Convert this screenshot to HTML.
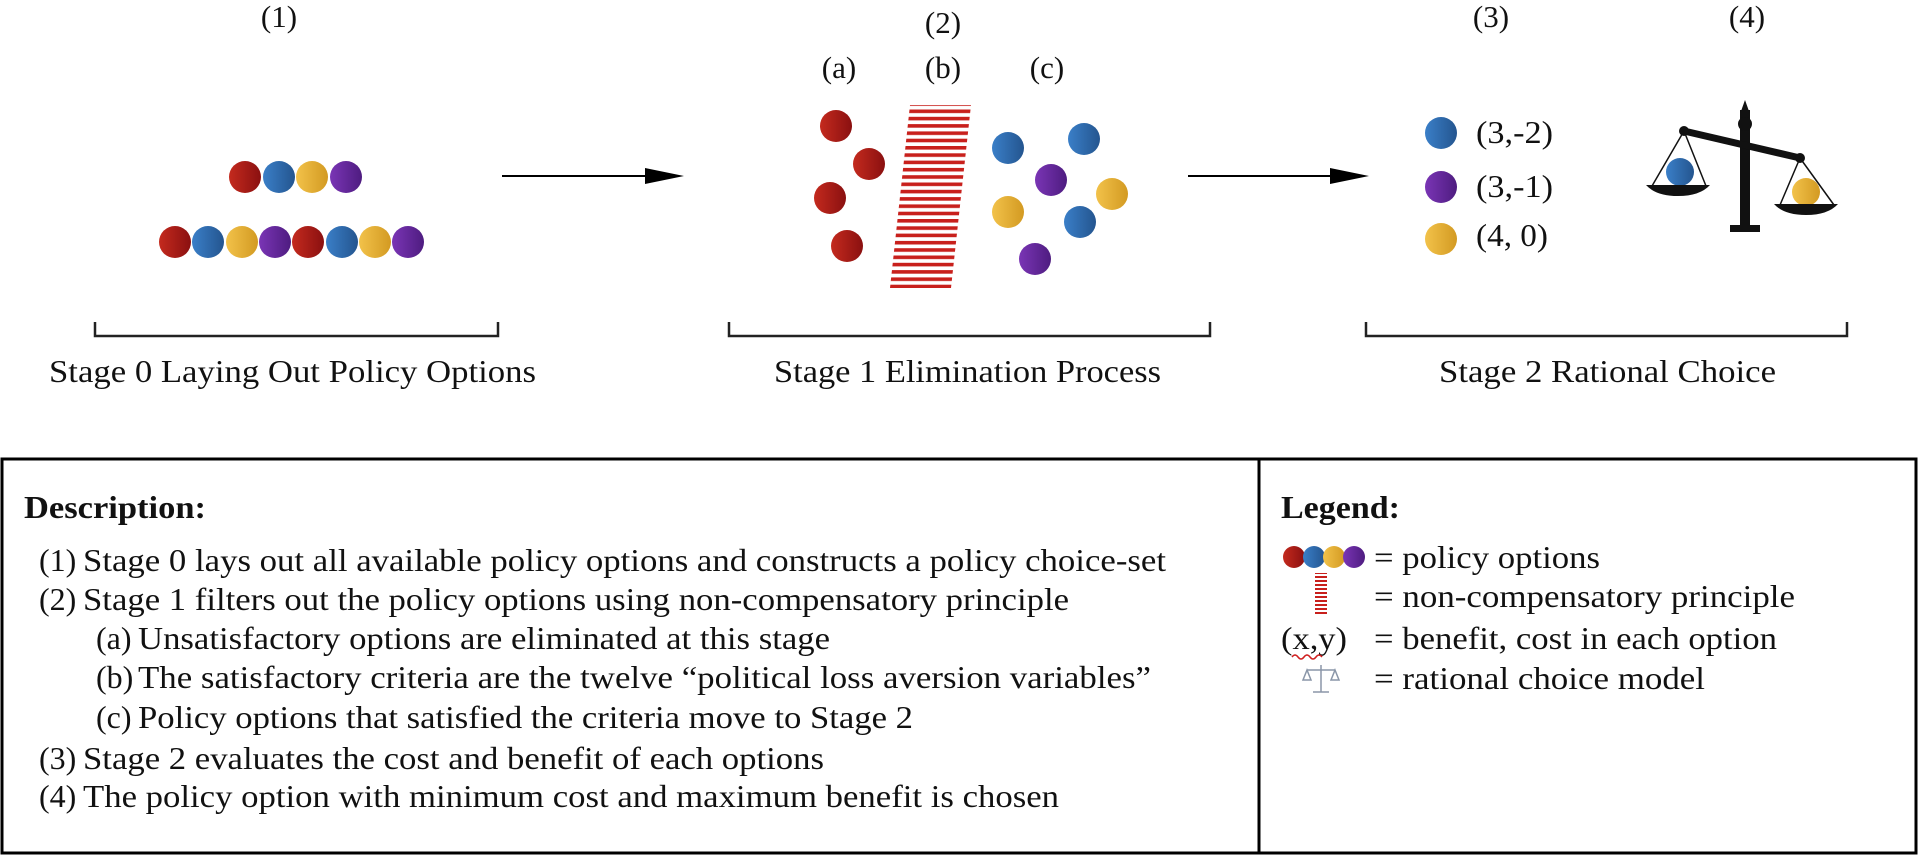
<!DOCTYPE html>
<html><head><meta charset="utf-8"><style>
html,body{margin:0;padding:0;background:#fff;width:1920px;height:856px;overflow:hidden}
svg{display:block}
text{font-family:"Liberation Serif",serif;fill:#111}
</style></head><body>
<svg width="1920" height="856" viewBox="0 0 1920 856" xmlns="http://www.w3.org/2000/svg">
<defs>
<linearGradient id="r" x1="0" x2="1"><stop offset="0" stop-color="#c42a1e"/><stop offset="1" stop-color="#8a1010"/></linearGradient>
<linearGradient id="b" x1="0" x2="1"><stop offset="0" stop-color="#3a7fc8"/><stop offset="1" stop-color="#24558f"/></linearGradient>
<linearGradient id="y" x1="0" x2="1"><stop offset="0" stop-color="#f2c24a"/><stop offset="1" stop-color="#d39a22"/></linearGradient>
<linearGradient id="p" x1="0" x2="1"><stop offset="0" stop-color="#7a35b5"/><stop offset="1" stop-color="#4e1c80"/></linearGradient>
<pattern id="st" width="10" height="7.3" patternUnits="userSpaceOnUse"><rect width="10" height="3.6" fill="#c8201c"/></pattern>
<pattern id="st2" width="10" height="4" patternUnits="userSpaceOnUse"><rect width="10" height="2" fill="#c8201c"/></pattern>
</defs>

<g font-size="31" text-anchor="middle">
<text x="279" y="27">(1)</text>
<text x="943" y="33">(2)</text>
<text x="839" y="78">(a)</text>
<text x="943" y="78">(b)</text>
<text x="1047" y="78">(c)</text>
<text x="1491" y="27">(3)</text>
<text x="1747" y="27">(4)</text>
</g>

<circle cx="245" cy="177" r="16" fill="url(#r)"/><circle cx="279" cy="177" r="16" fill="url(#b)"/><circle cx="312" cy="177" r="16" fill="url(#y)"/><circle cx="346" cy="177" r="16" fill="url(#p)"/>
<circle cx="175" cy="242" r="16" fill="url(#r)"/><circle cx="208" cy="242" r="16" fill="url(#b)"/><circle cx="242" cy="242" r="16" fill="url(#y)"/><circle cx="275" cy="242" r="16" fill="url(#p)"/>
<circle cx="308" cy="242" r="16" fill="url(#r)"/><circle cx="342" cy="242" r="16" fill="url(#b)"/><circle cx="375" cy="242" r="16" fill="url(#y)"/><circle cx="408" cy="242" r="16" fill="url(#p)"/>

<line x1="502" y1="176" x2="660" y2="176" stroke="#000" stroke-width="2"/><path d="M645,168 L684,176 L645,184z"/>
<line x1="1188" y1="176" x2="1345" y2="176" stroke="#000" stroke-width="2"/><path d="M1330,168 L1369,176 L1330,184z"/>

<circle cx="836" cy="126" r="16" fill="url(#r)"/><circle cx="869" cy="164" r="16" fill="url(#r)"/><circle cx="830" cy="198" r="16" fill="url(#r)"/><circle cx="847" cy="246" r="16" fill="url(#r)"/>
<polygon points="910,105 971,105 951,288 890,288" fill="url(#st)"/>
<circle cx="1008" cy="148" r="16" fill="url(#b)"/><circle cx="1084" cy="139" r="16" fill="url(#b)"/><circle cx="1080" cy="222" r="16" fill="url(#b)"/>
<circle cx="1051" cy="180" r="16" fill="url(#p)"/><circle cx="1035" cy="259" r="16" fill="url(#p)"/>
<circle cx="1008" cy="212" r="16" fill="url(#y)"/><circle cx="1112" cy="194" r="16" fill="url(#y)"/>

<circle cx="1441" cy="133" r="16" fill="url(#b)"/><circle cx="1441" cy="187" r="16" fill="url(#p)"/><circle cx="1441" cy="239" r="16" fill="url(#y)"/>
<g font-size="32"><text x="1476" y="143" textLength="77" lengthAdjust="spacingAndGlyphs">(3,-2)</text><text x="1476" y="197" textLength="77" lengthAdjust="spacingAndGlyphs">(3,-1)</text><text x="1476" y="246" textLength="72" lengthAdjust="spacingAndGlyphs">(4, 0)</text></g>

<g>
<rect x="1740" y="110" width="10" height="118" fill="#111"/>
<circle cx="1745" cy="124" r="7" fill="#111"/>
<path d="M1745,100 L1750,114 L1740,114z" fill="#111"/>
<rect x="1730" y="225" width="30" height="7" fill="#111"/>
<line x1="1684" y1="131" x2="1800" y2="158" stroke="#111" stroke-width="7"/>
<circle cx="1684" cy="131" r="5" fill="#111"/><circle cx="1800" cy="158" r="5" fill="#111"/>
<line x1="1684" y1="131" x2="1652" y2="186" stroke="#111" stroke-width="1.5"/><line x1="1684" y1="131" x2="1706" y2="186" stroke="#111" stroke-width="1.5"/>
<line x1="1800" y1="158" x2="1780" y2="205" stroke="#111" stroke-width="1.5"/><line x1="1800" y1="158" x2="1834" y2="205" stroke="#111" stroke-width="1.5"/>
<circle cx="1680" cy="172" r="14" fill="url(#b)"/>
<circle cx="1806" cy="192" r="14" fill="url(#y)"/>
<path d="M1646,185 L1710,185 Q1700,196 1678,196 Q1656,196 1646,185z" fill="#111"/>
<path d="M1774,204 L1838,204 Q1828,215 1806,215 Q1784,215 1774,204z" fill="#111"/>
</g>

<g fill="none" stroke="#222" stroke-width="2.5">
<path d="M95,322 V336 H498 V322"/>
<path d="M729,322 V336 H1210 V322"/>
<path d="M1366,322 V336 H1847 V322"/>
</g>
<g font-size="32" lengthAdjust="spacingAndGlyphs">
<text x="49" y="382" textLength="487" lengthAdjust="spacingAndGlyphs">Stage 0 Laying Out Policy Options</text>
<text x="774" y="382" textLength="387" lengthAdjust="spacingAndGlyphs">Stage 1 Elimination  Process</text>
<text x="1439" y="382" textLength="337" lengthAdjust="spacingAndGlyphs">Stage 2 Rational  Choice</text>
</g>

<rect x="2" y="459" width="1914" height="394" fill="none" stroke="#000" stroke-width="3"/>
<line x1="1259" y1="459" x2="1259" y2="853" stroke="#000" stroke-width="3"/>

<g font-size="32">
<text x="24" y="518" font-weight="bold" textLength="182" lengthAdjust="spacingAndGlyphs">Description:</text>
<text x="39" y="571">(1)</text><text x="83" y="571" textLength="1083" lengthAdjust="spacingAndGlyphs">Stage 0 lays out all available policy options and constructs a policy choice-set</text>
<text x="39" y="610">(2)</text><text x="83" y="610" textLength="986" lengthAdjust="spacingAndGlyphs">Stage 1 filters out the policy options using non-compensatory principle</text>
<text x="96" y="649">(a)</text><text x="138" y="649" textLength="692" lengthAdjust="spacingAndGlyphs">Unsatisfactory options are eliminated at this stage</text>
<text x="96" y="688">(b)</text><text x="138" y="688" textLength="1013" lengthAdjust="spacingAndGlyphs">The satisfactory criteria are the twelve “political loss aversion variables”</text>
<text x="96" y="728">(c)</text><text x="138" y="728" textLength="775" lengthAdjust="spacingAndGlyphs">Policy options that satisfied the criteria move to Stage 2</text>
<text x="39" y="769">(3)</text><text x="83" y="769" textLength="741" lengthAdjust="spacingAndGlyphs">Stage 2 evaluates the cost and benefit of each options</text>
<text x="39" y="807">(4)</text><text x="83" y="807" textLength="976" lengthAdjust="spacingAndGlyphs">The policy option with minimum cost and maximum benefit is chosen</text>

<text x="1281" y="518" font-weight="bold" textLength="119" lengthAdjust="spacingAndGlyphs">Legend:</text>
<text x="1374" y="568" textLength="226" lengthAdjust="spacingAndGlyphs">= policy options</text>
<text x="1374" y="607" textLength="421" lengthAdjust="spacingAndGlyphs">= non-compensatory principle</text>
<text x="1281" y="649" textLength="66" lengthAdjust="spacingAndGlyphs">(x,y)</text><text x="1374" y="649" textLength="403" lengthAdjust="spacingAndGlyphs">= benefit, cost in each option</text>
<text x="1374" y="689" textLength="331" lengthAdjust="spacingAndGlyphs">= rational choice model</text>
</g>
<circle cx="1294" cy="557" r="11" fill="url(#r)"/><circle cx="1314" cy="557" r="11" fill="url(#b)"/><circle cx="1334" cy="557" r="11" fill="url(#y)"/><circle cx="1354" cy="557" r="11" fill="url(#p)"/>
<rect x="1315" y="573" width="12" height="41" fill="url(#st2)"/>
<path d="M1292,657 q3,-4 6,0 t6,0 t6,0 t6,0 t6,0" fill="none" stroke="#d02020" stroke-width="1.5"/>
<g stroke="#8a96a8" stroke-width="1.5" fill="none">
<line x1="1321" y1="665" x2="1321" y2="692"/><line x1="1307" y1="670" x2="1335" y2="670"/>
<path d="M1307,670 l-4,10 h8z M1335,670 l-4,10 h8z"/><line x1="1313" y1="692" x2="1329" y2="692"/>
</g>
</svg>
</body></html>
